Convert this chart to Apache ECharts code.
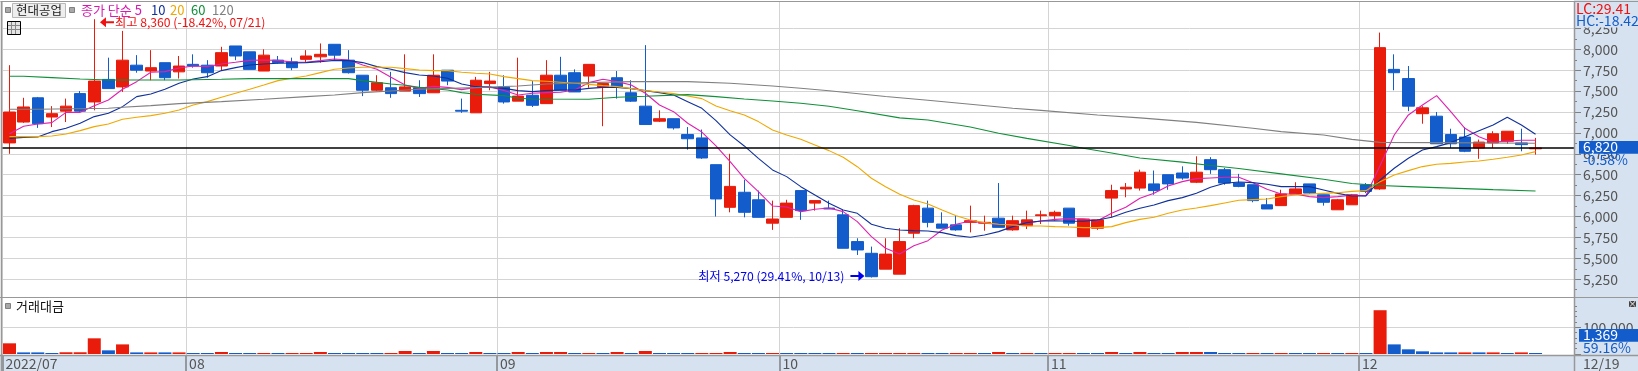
<!DOCTYPE html>
<html><head><meta charset="utf-8">
<script src="https://cdn.jsdelivr.net/npm/echarts@6/dist/echarts.min.js"></script>
<style>html,body{margin:0;padding:0;background:#fff}#c{width:1638px;height:371px}</style>
</head><body><div id="c"></div>
<script>
const categories=['07/13','07/14','07/15','07/18','07/19','07/20','07/21','07/22','07/25','07/26','07/27','07/28','07/29',
'08/01','08/02','08/03','08/04','08/05','08/08','08/09','08/10','08/11','08/12','08/16','08/17','08/18','08/19','08/22','08/23','08/24','08/25','08/26','08/29','08/30','08/31',
'09/01','09/02','09/05','09/06','09/07','09/08','09/13','09/14','09/15','09/16','09/19','09/20','09/21','09/22','09/23','09/26','09/27','09/28','09/29','09/30',
'10/04','10/05','10/06','10/07','10/11','10/12','10/13','10/14','10/17','10/18','10/19','10/20','10/21','10/24','10/25','10/26','10/27','10/28','10/31',
'11/01','11/02','11/03','11/04','11/07','11/08','11/09','11/10','11/11','11/14','11/15','11/16','11/17','11/18','11/21','11/22','11/23','11/24','11/25','11/28','11/29','11/30',
'12/01','12/02','12/05','12/06','12/07','12/08','12/09','12/12','12/13','12/14','12/15','12/16','12/19','','',''];
const monthStarts=[0,13,35,55,74,96];
const monthLabels=['2022/07','08','09','10','11','12'];
const opens=[6880,7130,7420,7190,7260,7470,7370,7640,7550,7810,7740,7840,7730,7820,7810,7800,8040,7970,7740,7870,7850,7880,7910,8060,7870,7690,7510,7540,7500,7540,7480,7750,7270,7240,7590,7550,7380,7450,7350,7690,7720,7680,7550,7660,7480,7320,7140,7170,6980,6940,6620,6110,6290,6200,5920,5990,6310,6160,6100,6020,5700,5560,5370,5310,5800,6100,5910,5900,5930,5920,5980,5840,5890,6010,6010,6100,5760,5860,6220,6330,6340,6390,6500,6520,6410,6680,6560,6400,6380,6140,6130,6270,6390,6260,6080,6140,6380,6330,7760,7650,7230,7200,6980,6950,6820,6880,6900,6880,6810];
const closes=[7250,7310,7110,7230,7320,7260,7620,7530,7870,7750,7780,7660,7800,7800,7720,7960,7920,7760,7930,7840,7780,7920,7940,7930,7720,7510,7600,7470,7550,7470,7690,7620,7260,7630,7620,7370,7440,7330,7690,7510,7490,7820,7590,7550,7380,7100,7170,7060,6930,6700,6210,6360,6050,5990,5970,6160,6070,6190,6090,5620,5600,5280,5550,5700,6130,5930,5860,5840,5950,5930,5870,5950,5960,6020,6050,5920,5970,5960,6310,6350,6530,6310,6390,6460,6530,6560,6400,6360,6190,6090,6270,6330,6280,6170,6200,6260,6300,8020,7720,7320,7300,6870,6870,6780,6890,6990,7020,6860,6820];
const lows=[6750,7120,7060,7070,7130,7250,7270,7530,7490,7720,7630,7630,7650,7780,7660,7750,7870,7760,7740,7830,7750,7840,7840,7870,7710,7440,7500,7420,7500,7430,7480,7570,7240,7240,7510,7350,7380,7310,7350,7510,7490,7540,7080,7410,7370,7100,7130,7040,6800,6690,6000,6050,5990,5990,5840,5990,5960,6070,6090,5620,5540,5270,5370,5310,5740,5870,5860,5830,5810,5830,5870,5830,5850,5910,5950,5890,5760,5840,5990,6230,6310,6260,6320,6440,6400,6510,6380,6350,6170,6090,6130,6270,6270,6130,6080,6140,6280,6320,7510,7260,7110,6870,6820,6770,6690,6820,6870,6780,6740];
const highs=[7810,7420,7430,7320,7410,7500,8360,7900,8220,7930,7990,7840,7920,7940,7870,8030,8040,7970,8000,7920,7900,7990,8070,8060,7990,7690,7690,7730,7940,7630,7940,7750,7410,7670,7730,7690,7900,7620,7870,7910,7760,7820,7590,7740,7630,8050,7270,7170,7070,7040,6620,6750,6440,6310,6190,6200,6310,6190,6190,6080,5740,5640,5740,5860,6140,6190,6050,6010,6130,6010,6400,6010,6070,6070,6070,6100,5970,5970,6380,6400,6560,6550,6500,6600,6720,6710,6580,6510,6380,6220,6320,6410,6390,6260,6210,6270,6400,8200,7940,7800,7320,7250,7050,7070,6920,7020,7020,7050,6940];
const ma5=[6990,7080,7107,7123,7246,7246,7326,7394,7522,7613,7725,7733,7777,7801,7793,7825,7845,7868,7872,7868,7848,7845,7864,7884,7872,7813,7761,7665,7573,7533,7557,7545,7518,7545,7553,7506,7454,7474,7482,7486,7514,7601,7641,7613,7573,7474,7334,7254,7115,7010,6844,6656,6457,6297,6126,6114,6058,6086,6102,6058,5939,5759,5620,5552,5651,5711,5839,5907,5946,5919,5907,5899,5923,5946,5966,5974,5970,5950,6038,6110,6218,6277,6365,6417,6453,6461,6469,6469,6405,6325,6270,6270,6238,6226,6238,6254,6250,6610,6975,7215,7334,7446,7254,7055,6955,6888,6904,6912,6912];
const ma10=[6935,6947,6951,7015,7055,7115,7195,7235,7314,7434,7466,7522,7593,7645,7673,7745,7781,7813,7825,7833,7837,7841,7852,7868,7864,7841,7793,7761,7721,7693,7681,7653,7585,7553,7545,7533,7506,7494,7506,7514,7514,7533,7545,7545,7530,7506,7482,7454,7374,7294,7147,6976,6844,6696,6557,6477,6357,6258,6158,6078,6038,5907,5859,5839,5831,5827,5807,5771,5751,5779,5819,5879,5927,5946,5950,5943,5943,5959,5991,6050,6098,6138,6190,6226,6277,6349,6397,6413,6405,6385,6357,6357,6357,6317,6277,6246,6246,6437,6577,6696,6796,6836,6884,6955,7027,7095,7187,7095,6983];
const ma20=[6955,6955,6955,6963,6987,7027,7075,7107,7163,7187,7207,7235,7274,7334,7374,7426,7474,7522,7573,7625,7653,7681,7721,7761,7777,7785,7785,7785,7769,7753,7745,7745,7725,7713,7705,7673,7649,7625,7617,7605,7593,7581,7565,7553,7530,7506,7490,7470,7442,7410,7322,7266,7215,7135,7035,6975,6923,6856,6788,6708,6596,6457,6357,6265,6198,6150,6078,6010,5958,5927,5907,5899,5887,5887,5879,5875,5867,5867,5879,5927,5966,5991,6038,6078,6102,6130,6162,6194,6202,6210,6238,6258,6270,6277,6285,6301,6309,6417,6497,6549,6597,6625,6636,6652,6664,6684,6708,6736,6776];
const ma60At=[0,1,3,5,7,12,15,17,24,25,27,28,29,31,32,33,35,36,37,41,43,45,48,50,52,54,56,58,60,63,65,68,70,72,75,76,78,80,83,85,87,90,93,95,97,99,102,105,108];
const ma60=[7677,7677,7661,7645,7633,7633,7641,7649,7649,7625,7585,7570,7545,7514,7482,7462,7446,7414,7406,7402,7426,7438,7458,7434,7406,7382,7354,7318,7265,7180,7155,7070,6995,6935,6850,6816,6760,6700,6650,6610,6575,6510,6445,6395,6370,6357,6340,6321,6305];
const ma120At=[0,2,7,8,10,12,15,18,21,23,25,29,33,36,38,41,44,48,51,54,56,58,62,65,68,71,73,77,80,84,88,90,93,95,97,101,108];
const ma120=[7282,7282,7294,7306,7326,7350,7374,7402,7434,7454,7482,7522,7541,7561,7585,7601,7613,7613,7593,7561,7535,7505,7435,7390,7342,7294,7270,7214,7180,7126,7055,7015,6975,6923,6887,6884,6876];
const volumes=[40000,6000,6000,3700,6500,6500,58700,13700,36000,6000,6000,6000,6000,3700,3700,7500,3700,3700,3700,3700,3700,3700,7500,3700,3700,3700,3700,3700,11200,3700,11200,3700,3700,7500,3700,3700,7500,3700,7500,7500,3700,3700,3700,7500,3700,11200,3700,3700,3700,3700,3700,7500,3700,3700,3700,3700,3700,3700,3700,3700,3700,3700,3700,3700,3700,3700,3700,3700,3700,3700,7500,3700,3700,3700,3700,3700,3700,3700,7500,3700,7500,3700,3700,7500,7500,7500,3700,3700,3700,3700,3700,3700,3700,3700,3700,3700,3700,164000,36000,17500,10000,6000,6000,6000,6000,6000,3700,6000,1369];
const volumeUp=[1,0,0,0,1,1,1,0,1,0,1,0,1,0,0,1,0,0,1,0,1,1,1,0,0,0,0,1,1,0,1,0,0,1,0,0,1,0,1,1,0,1,0,1,0,1,0,0,0,1,1,1,0,0,1,0,0,0,0,1,0,1,1,1,1,0,0,1,1,0,1,0,1,0,1,1,0,0,1,0,1,0,0,1,1,0,0,0,1,0,1,0,0,1,0,1,0,1,0,0,0,0,0,1,0,1,0,1,0];

const RED='#E91C0B',BLUE='#125CCC',GRID='#D4D4D4',EDGE='#989898',PANE='#D6E2F0',TXT='#555';
const NARROW='"Liberation Sans Narrow","Noto Sans CJK KR",sans-serif';
const BAND=14.13,LEFT=2.43,WIDTH=BAND*112;
const fmt=v=>Number(v).toLocaleString('en-US');
const frameData=Array.from({length:113},()=> '');
monthStarts.forEach((m,i)=>{frameData[m]=monthLabels[i];});
const isMonth=i=>monthStarts.includes(i);

const chart=echarts.init(document.getElementById('c'),null,{renderer:'canvas'});
const line=(name,data,color)=>({name,type:'line',xAxisIndex:1,yAxisIndex:1,data,z:4,showSymbol:false,symbol:'none',
  lineStyle:{color,width:1.1},itemStyle:{color},silent:true,animation:false});
const txt=(text,x,y,fill,opt={})=>({type:'text',z:opt.z||30,silent:true,style:Object.assign({text,x,y,fill,font:(opt.size||13.5)+'px '+NARROW,textAlign:opt.align||'left',textVerticalAlign:'middle'},opt.style||{})});
const rect=(x,y,w,h,fill,z,stroke)=>({type:'rect',z,silent:true,shape:{x,y,width:w,height:h},style:{fill,stroke:stroke||null,lineWidth:stroke?1:0}});
const hl=(x1,y1,x2,y2,stroke,z,w)=>({type:'line',z,silent:true,shape:{x1,y1,x2,y2},style:{stroke,lineWidth:w||1}});

const graphics=[
  rect(0,355,1638,16,PANE,-1),
  rect(1574,0,64,371,PANE,10),
  rect(1575,298,63,6,PANE,25),
  rect(1575,2,63,25.5,PANE,25),
  hl(0.5,1.5,1638,1.5,EDGE,26,1.2),
  hl(1.5,1,1.5,371,EDGE,26,1.5),
  hl(0,297.5,1638,297.5,EDGE,26,1.2),
  hl(0,355.5,1638,355.5,EDGE,26,1.5),
  hl(1574.5,1,1574.5,371,EDGE,26,1.5),
  rect(5.5,7.5,5,5,'#A8A8A8',30,'#808080'),
  rect(12.5,3.5,53,14,'#EEEEEE',30,'#B8B8B8'),
  txt('현대공업',39,10.5,'#222',{align:'center',size:12.5}),
  rect(69.5,7.5,5,5,'#A8A8A8',30,'#808080'),
  txt('종가 단순 5',81,10.5,'#D81BB0',{size:13}),
  txt('10',151,10.5,'#10309C',{size:13}),
  txt('20',170,10.5,'#F0A800',{size:13}),
  txt('60',191,10.5,'#109038',{size:13}),
  txt('120',212,10.5,'#808080',{size:13}),
  rect(7.5,21.5,13,13,'#E4E4E4',30,'#000'),
  hl(8,25.5,20,25.5,'#888',31),hl(8,29.5,20,29.5,'#888',31),hl(11.5,22,11.5,34,'#888',31),hl(15.5,22,15.5,34,'#888',31),
  rect(5.5,303.5,5,5,'#A8A8A8',30,'#808080'),
  txt('거래대금',16,306,'#111',{size:13}),
  rect(1629,301,7,6,'#444',30),
  txt('×',1632.5,303.8,'#fff',{size:9,align:'center'}),
  txt('LC:29.41',1576,8.5,'#F01010',{size:14}),
  txt('HC:-18.42',1576,21,'#125CCC',{size:14}),
  rect(1579,141,59,12.7,BLUE,28),
  txt(fmt(closes[closes.length-1]),1583,147,'#fff',{size:14}),
  txt('-0.58%',1583,160,BLUE,{size:14}),
  rect(1579,329,59,12.7,BLUE,28),
  txt(fmt(volumes[volumes.length-1]),1583,335,'#fff',{size:14}),
  txt('59.16%',1583,347.5,BLUE,{size:14}),
  txt('12/19',1583,363.5,TXT,{size:14})
];

const option={
  backgroundColor:'#fff',animation:false,
  grid:[
    {left:LEFT,top:1,width:WIDTH,height:354},
    {left:LEFT,top:7.5,width:WIDTH,height:292.6},
    {left:LEFT,top:300.6,width:WIDTH,height:53.4},
    {left:1574,top:7.5,width:64,height:292.6},
    {left:1574,top:300.6,width:64,height:53.4}
  ],
  xAxis:[
    {gridIndex:0,type:'category',boundaryGap:false,data:frameData,position:'bottom',
      axisLine:{show:false},
      axisTick:{show:true,length:16,interval:isMonth,lineStyle:{color:'#808080',width:1.5}},
      axisLabel:{show:true,interval:isMonth,align:'left',margin:2,padding:[0,0,0,3],color:TXT,fontSize:14,fontFamily:NARROW,hideOverlap:false},
      splitLine:{show:true,interval:isMonth,lineStyle:{color:GRID,width:1}}},
    {gridIndex:1,type:'category',data:categories,show:false},
    {gridIndex:2,type:'category',data:categories,show:false},
    {gridIndex:3,type:'value',show:false},
    {gridIndex:4,type:'value',show:false}
  ],
  yAxis:[
    {gridIndex:0,type:'value',show:false,min:0,max:1,splitLine:{show:false}},
    {gridIndex:1,type:'value',min:5000,max:8500,interval:250,position:'right',axisLine:{show:false},axisTick:{show:false},axisLabel:{show:false},
      splitLine:{show:true,showMinLine:false,showMaxLine:false,lineStyle:{color:GRID,width:1}}},
    {gridIndex:2,type:'value',min:0,max:200000,interval:100000,position:'right',axisLine:{show:false},axisTick:{show:false},axisLabel:{show:false},
      splitLine:{show:true,showMinLine:false,showMaxLine:false,lineStyle:{color:GRID,width:1}}},
    {gridIndex:3,type:'value',min:5000,max:8500,interval:250,position:'left',z:20,axisLine:{show:false},
      axisTick:{show:true,inside:true,length:7,lineStyle:{color:'#808080'}},
      minorTick:{show:true,splitNumber:2,length:3,lineStyle:{color:'#808080'}},
      axisLabel:{show:true,inside:true,margin:9,align:'left',padding:[0,0,3,0],color:TXT,fontSize:14,fontFamily:NARROW,showMinLabel:false,showMaxLabel:false,formatter:v=>fmt(v)},
      splitLine:{show:false}},
    {gridIndex:4,type:'value',min:0,max:200000,interval:100000,position:'left',z:20,axisLine:{show:false},
      axisTick:{show:true,inside:true,length:7,lineStyle:{color:'#808080'}},
      minorTick:{show:true,splitNumber:5,length:3,lineStyle:{color:'#808080'}},
      axisLabel:{show:true,inside:true,margin:9,align:'left',padding:[0,0,3,0],color:TXT,fontSize:14,fontFamily:NARROW,showMinLabel:false,showMaxLabel:false,formatter:v=>fmt(v)},
      splitLine:{show:false}}
  ],
  series:[
    {name:'candle',type:'candlestick',xAxisIndex:1,yAxisIndex:1,z:3,barWidth:12,silent:true,
      data:opens.map((o,i)=>[o,closes[i],lows[i],highs[i]]),
      itemStyle:{color:RED,color0:BLUE,borderColor:RED,borderColor0:BLUE,borderWidth:1},
      markLine:{silent:true,symbol:'none',z:6,label:{show:false},lineStyle:{color:'#000',width:1.5,type:'solid'},data:[{yAxis:closes[closes.length-1]}],animation:false},
      markPoint:{silent:true,z:7,animation:false,data:[
        {coord:[categories[6],8360],symbol:'path://M0,5 L6,0 L6,4 L14,4 L14,6 L6,6 L6,10 Z',symbolSize:[14,10],symbolOffset:[12.7,3],itemStyle:{color:'#F01010'},
          label:{show:true,position:'right',distance:1,formatter:'최고 8,360 (-18.42%, 07/21)',color:'#F01010',fontSize:12.2,fontFamily:NARROW}},
        {coord:[categories[61],5270],symbol:'path://M14,5 L8,0 L8,4 L0,4 L0,6 L8,6 L8,10 Z',symbolSize:[14,10],symbolOffset:[-14,-1.5],itemStyle:{color:'#0000F0'},
          label:{show:true,position:'left',distance:6,formatter:'최저 5,270 (29.41%, 10/13)',color:'#0000F0',fontSize:12.2,fontFamily:NARROW}}
      ]}},
    line('MA5',ma5,'#E020B0'),
    line('MA10',ma10,'#10309C'),
    line('MA20',ma20,'#F0A800'),
    line('MA60',ma60At.map((k,i)=>[k,ma60[i]]),'#109038'),
    line('MA120',ma120At.map((k,i)=>[k,ma120[i]]),'#808080'),
    {name:'volume',type:'bar',xAxisIndex:2,yAxisIndex:2,z:3,barWidth:13,barMinHeight:1,silent:true,
      data:volumes.map((v,i)=>({value:v,itemStyle:{color:volumeUp[i]?RED:BLUE}}))}
  ],
  graphic:{elements:graphics}
};
chart.setOption(option);
</script></body></html>
